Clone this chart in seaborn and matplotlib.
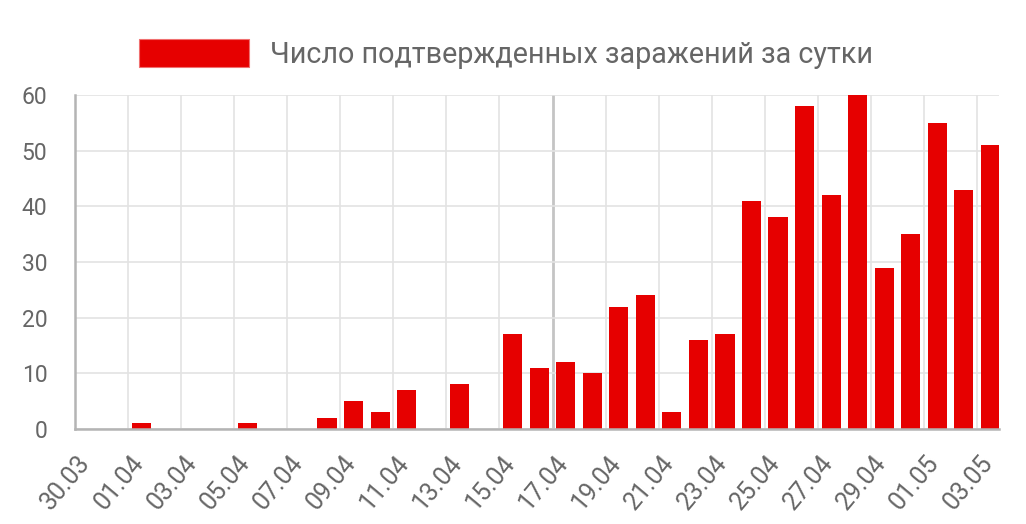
import matplotlib
matplotlib.use("Agg")
import matplotlib.pyplot as plt
import matplotlib.transforms as mtransforms
from matplotlib.patches import Patch
import seaborn as sns
import pandas as pd

dates = ["30.03", "31.03", "01.04", "02.04", "03.04", "04.04", "05.04", "06.04",
         "07.04", "08.04", "09.04", "10.04", "11.04", "12.04", "13.04", "14.04",
         "15.04", "16.04", "17.04", "18.04", "19.04", "20.04", "21.04", "22.04",
         "23.04", "24.04", "25.04", "26.04", "27.04", "28.04", "29.04", "30.04",
         "01.05", "02.05", "03.05"]
cases = [0, 0, 1, 0, 0, 0, 1, 0,
         0, 2, 5, 3, 7, 0, 8, 0,
         17, 11, 12, 10, 22, 24, 3, 16,
         17, 41, 38, 58, 42, 60, 29, 35,
         55, 43, 51]
y_ticks = [0, 10, 20, 30, 40, 50, 60]
legend_label = "Число подтвержденных заражений за сутки"

RED = "#e60000"
GRID = "#e3e3e3"
AXIS = "#b4b4b4"
TXT = "#666666"

sns.set_style("white")
plt.rcParams["font.family"] = ["Roboto", "DejaVu Sans"]

df = pd.DataFrame({"date": dates, "cases": cases})

fig = plt.figure(figsize=(10.26, 5.24), dpi=100)
ax = fig.add_axes([75 / 1026, 1 - 429 / 524, (999 - 75) / 1026, (429 - 95) / 524])

sns.barplot(data=df, x="date", y="cases", color=RED, saturation=1, width=0.72,
            linewidth=0, edgecolor="none", ax=ax)

ax.set_ylim(0, 60)
ax.set_xlim(-0.5, 34.33)
ax.set_xlabel("")
ax.set_ylabel("")

tick_pos = [i - 0.5 for i in range(0, len(dates), 2)]
tick_lab = [dates[i] for i in range(0, len(dates), 2)]
ax.set_xticks(tick_pos)
ax.set_xticklabels(tick_lab, rotation=50, ha="right", va="center", rotation_mode="anchor")
ax.set_yticks(y_ticks)
ax.set_yticklabels([str(v) for v in y_ticks])

ax.set_axisbelow(True)
ax.grid(True, color=GRID, linewidth=1.2)
for sp in ["top", "right"]:
    ax.spines[sp].set_visible(False)
for sp in ["left", "bottom"]:
    ax.spines[sp].set_color(AXIS)
    ax.spines[sp].set_linewidth(1.8)

ax.tick_params(axis="x", length=16.5, width=1.2, color=GRID, pad=4.5, labelsize=18, labelcolor=TXT)
ax.tick_params(axis="y", length=18, width=1.2, color=GRID, pad=2, labelsize=16.5, labelcolor=TXT)

# darker line at 17.04
gl = ax.get_xgridlines()
mid = tick_lab.index("17.04")
gl[mid].set_color("#c4c4c4")
gl[mid].set_linewidth(2.0)
xt = ax.xaxis.get_major_ticks()
xt[0].tick1line.set_color(AXIS)
xt[0].tick1line.set_markeredgewidth(1.8)
yt = ax.yaxis.get_major_ticks()
yt[0].tick1line.set_color(AXIS)
yt[0].tick1line.set_markeredgewidth(1.8)

offset = mtransforms.ScaledTranslation(11 / 100, 0, fig.dpi_scale_trans)
for lab in ax.get_xticklabels():
    lab.set_transform(lab.get_transform() + offset)

fs = 20.7
fpx = fs * 100 / 72
handle = Patch(facecolor=RED, edgecolor="#f07070", linewidth=0.8)
fig.legend(handles=[handle], labels=[legend_label], loc="center",
           bbox_to_anchor=(506 / 1026, 1 - 54 / 524), frameon=False,
           fontsize=fs, labelcolor=TXT,
           handlelength=110 / fpx, handleheight=32 / fpx, handletextpad=22 / fpx,
           borderpad=0, borderaxespad=0)

fig.savefig("out.png", dpi=100)
